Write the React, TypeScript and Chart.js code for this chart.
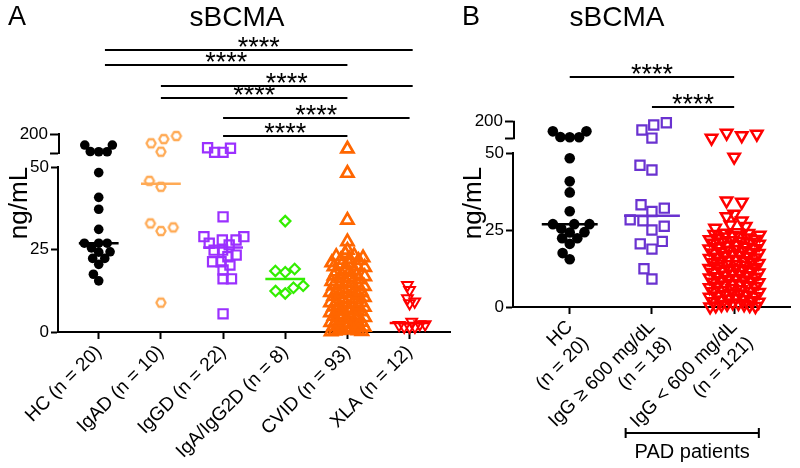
import React, { useEffect, useRef } from 'react';
import { Chart, registerables } from 'chart.js';

Chart.register(...registerables);

const FONT = "'Liberation Sans', Arial, Helvetica, sans-serif";

// ---------------- data ----------------
const yTicks = [0, 25, 50];
const breakTicks = [50, 200];
const breakLabel = '200';
const sigLabel = '****';
const titleText = 'sBCMA';
const yTitle = 'ng/mL';

const catsA = ['HC (n = 20)', 'IgAD (n = 10)', 'IgGD (n = 22)', 'IgA/IgG2D (n = 8)', 'CVID (n = 93)', 'XLA (n = 12)'];

const hcValues = [60, 113, 62, 113, 60, 48.3, 40.8, 37.2, 31.1, 26.9, 26.9, 26.9, 25.5, 24.2, 24.3, 22.3, 22.3, 20.5, 17.5, 15.5];
const igadValues = [184, 160, 127, 60, 44.0, 45.8, 30.6, 32.9, 31.7, 8.9];
const iggdValues = [55, 92, 55, 87, 34.9, 27.9, 28.9, 27.9, 28.9, 26.4, 26.9, 24.8, 24.8, 23.3, 22.8, 21.3, 21.3, 20.3, 18.8, 16.1, 16.1, 5.5];
const igaIgg2dValues = [33.6, 18.1, 19.1, 18.5, 14.0, 13.4, 11.7, 12.4];
const cvidValues = [
  82, 48.1, 33.9, 27.4, 24.8,
  23.8, 23.2, 22.9, 22.1, 21.8, 21.7, 21.0, 20.6, 20.5, 19.8,
  19.6, 19.0, 18.7, 18.2, 18.1, 17.5, 17.3, 16.8, 16.4, 16.2,
  15.9, 15.3, 15.1, 14.8, 14.4, 14.0, 13.8, 13.3, 13.0, 12.7,
  12.5, 12.0, 11.8, 11.4, 11.1, 10.8, 10.5, 10.2, 9.8, 9.7,
  9.2, 8.9, 8.6, 8.4, 8.0, 7.6, 7.5, 7.1, 6.8, 6.6,
  6.2, 5.9, 5.7, 5.3, 5.0, 4.8, 4.4, 4.1, 3.9, 3.6,
  3.3, 3.0, 2.9, 2.5, 2.2, 2.0, 1.7, 1.5, 1.2, 1.0,
  0.8, 0.6, 0.5, 0.3, 0.2, 0.1, 22.5, 20.0, 17.0, 14.2,
  11.6, 9.0, 6.4, 3.8, 1.8, 0.4, 12.3, 7.9,
];
const xlaValues = [8.7, 14.2, 12.7, 10.2, 9.2, 2.1, 3.1, 1.6, 2.3, 1.6, 2.3, 1.6];

const catsB = [['HC', '(n = 20)'], ['IgG \u2265 600 mg/dL', '(n = 18)'], ['IgG < 600 mg/dL', '(n = 121)']];
const igHighValues = [191, 170, 125, 52, 44.5, 46.0, 32.1, 33.2, 31.0, 28.3, 28.0, 26.2, 25.0, 21.3, 20.5, 18.8, 12.4, 9.1];
const igLowValues = [
  52, 97, 75, 88, 48.7, 34.1, 34.5, 30.2, 29.4, 28.0, 26.7, 26.2, 25.6, 24.0,
  24.2, 23.9, 23.6, 23.4, 23.0, 22.8, 22.5, 22.3, 21.9, 21.6,
  21.4, 21.0, 20.8, 20.4, 20.2, 19.9, 19.5, 19.3, 18.9, 18.7,
  18.3, 18.0, 17.8, 17.4, 17.1, 16.9, 16.5, 16.2, 16.0, 15.6,
  15.3, 15.1, 14.7, 14.4, 14.2, 13.8, 13.5, 13.3, 12.9, 12.6,
  12.4, 12.0, 11.7, 11.5, 11.1, 10.8, 10.6, 10.2, 9.9, 9.7,
  9.3, 9.0, 8.8, 8.4, 8.1, 7.9, 7.5, 7.2, 7.0, 6.6,
  6.3, 6.1, 5.7, 5.4, 5.2, 4.8, 4.5, 4.3, 3.9, 3.6,
  3.4, 3.0, 2.7, 2.5, 2.1, 1.8, 1.6, 1.2, 0.9, 0.7,
  0.4, 0.2, 0.1, 23.2, 21.2, 19.0, 17.6, 15.8, 13.9, 12.2,
  10.4, 8.6, 6.8, 5.0, 3.2, 1.4, 0.5, 22.0, 18.5, 14.9,
  11.3, 7.7, 4.1, 0.8, 16.7, 9.5, 2.3,
];

const sigPairsA = [[0, 5], [0, 4], [1, 5], [1, 4], [2, 5], [2, 4]];
const sigPairsB = [[0, 2], [1, 2]];
const padGroupLabel = 'PAD patients';

// ---------------- helpers ----------------
type K = { low: number; gap: number; top: number; cat: number };

function pixelHeights(values: number[], k: K): number[] {
  return values.map((v) => (v <= 50 ? v * k.low : 50 * k.low + k.gap + (v - 50) * k.top));
}

// beeswarm layout (pixel space approximation) -> x offsets in category units
function swarm(values: number[], k: K, diam: number): number[] {
  const py = pixelHeights(values, k);
  const idx = values.map((_, i) => i).sort((a, b) => py[a] - py[b]);
  const xs: number[] = new Array(values.length).fill(0);
  const placed: number[] = [];
  const d2 = diam * diam;
  idx.forEach((i, n) => {
    const cands = [0];
    for (const j of placed) {
      const dy = py[i] - py[j];
      if (Math.abs(dy) < diam) {
        const dx = Math.sqrt(d2 - dy * dy);
        cands.push(xs[j] + dx, xs[j] - dx);
      }
    }
    const sign = n % 2 ? 1 : -1;
    cands.sort((a, b) => Math.abs(a) - Math.abs(b) || (a - b) * sign);
    for (const c of cands) {
      let ok = true;
      for (const j of placed) {
        const dx = c - xs[j];
        const dy = py[i] - py[j];
        if (dx * dx + dy * dy < d2 - 0.01) { ok = false; break; }
      }
      if (ok) { xs[i] = c; break; }
    }
    placed.push(i);
  });
  return xs.map((x) => x / k.cat);
}

// row-binned scatter layout for dense columns
function rowLayout(values: number[], k: K, rowH: number, step: number, span: number): number[] {
  const py = pixelHeights(values, k);
  const idx = values.map((_, i) => i).sort((a, b) => py[a] - py[b]);
  const xs: number[] = new Array(values.length).fill(0);
  let r = 0;
  let rowNo = 0;
  while (r < idx.length) {
    const start = py[idx[r]];
    const h = start > 50 * k.low ? rowH * 2 : rowH;
    const row: number[] = [];
    while (r < idx.length && py[idx[r]] < start + h) { row.push(idx[r]); r++; }
    const n = row.length;
    const sp = n > 1 ? Math.min(step, span / (n - 1)) : 0;
    const shift = n > 2 ? (rowNo % 2 ? 0.25 : -0.25) * sp : 0;
    const slots: number[] = [];
    if (start > 50 * k.low) {
      // keep reading order in the upper segment
      row.sort((a, b) => a - b).forEach((_, m) => slots.push(m));
    } else {
      let lo = 0, hi = n - 1;
      while (lo <= hi) { slots.push(rowNo % 2 ? hi-- : lo++); if (lo <= hi) slots.push(rowNo % 2 ? lo++ : hi--); }
    }
    row.forEach((i, m) => { xs[i] = (slots[m] - (n - 1) / 2) * sp + (start > 50 * k.low ? 0 : shift); });
    rowNo++;
  }
  return xs.map((x) => x / k.cat);
}

function median(values: number[]): number {
  const s = [...values].sort((a, b) => a - b);
  const m = Math.floor(s.length / 2);
  return s.length % 2 ? s[m] : (s[m - 1] + s[m]) / 2;
}

function hexImage(color: string, r: number, lw: number): HTMLCanvasElement {
  const s = Math.ceil(2 * r + lw + 2);
  const c = document.createElement('canvas');
  c.width = s; c.height = s;
  const ctx = c.getContext('2d')!;
  ctx.strokeStyle = color; ctx.lineWidth = lw; ctx.lineJoin = 'round';
  ctx.beginPath();
  for (let a = 0; a < 6; a++) {
    const t = (a * Math.PI) / 3;
    const x = s / 2 + r * Math.cos(t);
    const y = s / 2 + r * Math.sin(t);
    if (a) ctx.lineTo(x, y); else ctx.moveTo(x, y);
  }
  ctx.closePath(); ctx.stroke();
  return c;
}

type Marker = { style: any; radius: number; color: string; fill: boolean; lw: number; rot?: number };
type Group = { values: number[]; marker: Marker; diam: number; rows?: { h: number; step: number; span: number } };

function groupDatasets(i: number, g: Group, k: K, half: number): any[] {
  const off = g.rows ? rowLayout(g.values, k, g.rows.h, g.rows.step, g.rows.span) : swarm(g.values, k, g.diam);
  const low: any[] = [];
  const high: any[] = [];
  g.values.forEach((v, n) => (v <= 50 ? low : high).push({ x: i + off[n], y: v }));
  const m = g.marker;
  const base = {
    type: 'scatter',
    pointStyle: m.style,
    pointRadius: m.radius,
    pointBackgroundColor: m.fill ? m.color : 'rgba(0,0,0,0)',
    pointBorderColor: m.color,
    pointBorderWidth: m.fill ? 0 : m.lw,
    pointRotation: m.rot || 0,
    showLine: false,
    clip: false,
    order: 1,
  };
  const med = median(g.values);
  return [
    { ...base, data: low, yAxisID: 'y' },
    { ...base, data: high, yAxisID: 'yTop' },
    {
      type: 'scatter', showLine: true, data: [{ x: i - half, y: med }, { x: i + half, y: med }],
      borderColor: m.color, borderWidth: 2.5, pointRadius: 0, yAxisID: 'y', clip: false, order: 2,
    },
  ];
}

type Panel = {
  cats: any[];
  groups: Group[];
  k: K;
  half: number;
  xMin: number; xMax: number;
  yTopMin: number; yTopMax: number;
  wLow: number; wTop: number;
  padTop: number; padRight: number;
  yWidth: number; xHeight: number;
  letter: string; letterX: number; titleX: number;
  ylabX: number; ylabY: number;
  sig: { pair: number[]; y: number; a?: number; b?: number }[];
  pad?: { from: number; to: number; y: number; textY: number };
};

function makePlugin(p: Panel) {
  return {
    id: 'annot' + p.letter,
    afterDraw(chart: any) {
      const ctx: CanvasRenderingContext2D = chart.ctx;
      const xs = chart.scales.x;
      const yt = chart.scales.yTop;
      const ca = chart.chartArea;
      ctx.save();
      ctx.fillStyle = '#000';
      ctx.strokeStyle = '#000';
      ctx.textBaseline = 'alphabetic';
      ctx.font = `27px ${FONT}`;
      ctx.textAlign = 'left';
      ctx.fillText(p.letter, p.letterX, 25);
      ctx.font = `28px ${FONT}`;
      ctx.textAlign = 'center';
      ctx.fillText(titleText, p.titleX, 26);
      ctx.save();
      ctx.translate(p.ylabX, p.ylabY);
      ctx.rotate(-Math.PI / 2);
      ctx.font = `26px ${FONT}`;
      ctx.textAlign = 'center';
      ctx.textBaseline = 'middle';
      ctx.fillText(yTitle, 0, 0);
      ctx.restore();
      // axis break bracket
      ctx.lineWidth = 2;
      ctx.beginPath();
      const bx = ca.left + 1;
      ctx.moveTo(bx, yt.getPixelForValue(breakTicks[1]) - 1);
      ctx.lineTo(bx, yt.getPixelForValue(breakTicks[0]) + 1);
      ctx.stroke();
      // significance bars
      ctx.font = `27px ${FONT}`;
      ctx.textAlign = 'center';
      ctx.textBaseline = 'alphabetic';
      const mt = ctx.measureText(sigLabel);
      for (const s of p.sig) {
        const x1 = xs.getPixelForValue(s.pair[0] + (s.a || 0));
        const x2 = xs.getPixelForValue(s.pair[1] + (s.b || 0));
        ctx.lineWidth = 2;
        ctx.beginPath();
        ctx.moveTo(x1, s.y); ctx.lineTo(x2, s.y);
        ctx.stroke();
        ctx.fillText(sigLabel, (x1 + x2) / 2, s.y - 3 - mt.actualBoundingBoxDescent);
      }
      if (p.pad) {
        const x1 = xs.getPixelForValue(p.pad.from);
        const x2 = xs.getPixelForValue(p.pad.to);
        ctx.lineWidth = 2;
        ctx.beginPath();
        ctx.moveTo(x1, p.pad.y); ctx.lineTo(x2, p.pad.y);
        ctx.moveTo(x1, p.pad.y - 5); ctx.lineTo(x1, p.pad.y + 5);
        ctx.moveTo(x2, p.pad.y - 5); ctx.lineTo(x2, p.pad.y + 5);
        ctx.stroke();
        ctx.font = `20px ${FONT}`;
        ctx.textBaseline = 'middle';
        ctx.fillText(padGroupLabel, (x1 + x2) / 2, p.pad.textY);
      }
      ctx.restore();
    },
  };
}

function makeConfig(p: Panel): any {
  const datasets: any[] = [];
  p.groups.forEach((g, i) => datasets.push(...groupDatasets(i, g, p.k, p.half)));
  const tickFont = { size: 17, family: FONT };
  const yGrid = { drawOnChartArea: false, tickLength: 7, tickWidth: 2, color: '#000' };
  return {
    type: 'scatter',
    data: { datasets },
    options: {
      responsive: false,
      animation: false,
      events: [],
      layout: { padding: { top: p.padTop, right: p.padRight, left: 0, bottom: 0 } },
      plugins: { legend: { display: false }, tooltip: { enabled: false }, title: { display: false } },
      scales: {
        x: {
          type: 'linear',
          min: p.xMin,
          max: p.xMax,
          afterBuildTicks: (s: any) => { s.ticks = p.cats.map((_: any, i: number) => ({ value: i })); },
          ticks: {
            callback: (v: any) => p.cats[Math.round(v)] ?? '',
            autoSkip: false,
            minRotation: 45,
            maxRotation: 45,
            font: { size: 19, family: FONT },
            color: '#000',
            padding: 2,
          },
          grid: { drawOnChartArea: false, tickLength: 7, tickWidth: 2, color: '#000' },
          border: { display: true, width: 2, color: '#000' },
          afterFit: (s: any) => { s.height = p.xHeight; },
        },
        y: {
          type: 'linear',
          position: 'left',
          stack: 'v',
          stackWeight: p.wLow,
          min: 0,
          max: 50,
          afterBuildTicks: (s: any) => { s.ticks = yTicks.map((v) => ({ value: v })); },
          ticks: { font: tickFont, color: '#000', padding: 2 },
          grid: yGrid,
          border: { display: true, width: 2, color: '#000' },
          afterFit: (s: any) => { s.width = p.yWidth; },
        },
        yTop: {
          type: 'linear',
          position: 'left',
          stack: 'v',
          stackWeight: p.wTop,
          min: p.yTopMin,
          max: p.yTopMax,
          afterBuildTicks: (s: any) => { s.ticks = breakTicks.map((v) => ({ value: v })); },
          ticks: { font: tickFont, color: '#000', padding: 2, callback: (v: any) => (v === breakTicks[1] ? breakLabel : '') },
          grid: { drawOnChartArea: false, tickLength: 8, tickWidth: 2, color: '#000' },
          border: { display: false },
          afterFit: (s: any) => { s.width = p.yWidth; },
        },
      },
    },
    plugins: [makePlugin(p)],
  };
}

export default function App() {
  const refA = useRef<HTMLCanvasElement>(null);
  const refB = useRef<HTMLCanvasElement>(null);

  useEffect(() => {
    const hex = hexImage('#FFAA55', 4.6, 2.3);
    const kA: K = { low: 3.3, gap: 14, top: 0.1267, cat: 62.6 };
    const kB: K = { low: 3.08, gap: 15, top: 0.1107, cat: 83.5 };

    const panelA: Panel = {
      cats: catsA,
      groups: [
        { values: hcValues, diam: 8.5, marker: { style: 'circle', radius: 4.8, color: '#000000', fill: true, lw: 0 } },
        { values: igadValues, diam: 13, marker: { style: hex, radius: 5, color: '#FFAA55', fill: false, lw: 2.3 } },
        { values: iggdValues, diam: 8.5, marker: { style: 'rect', radius: 6.5, color: '#9B30FF', fill: false, lw: 2.2 } },
        { values: igaIgg2dValues, diam: 10, marker: { style: 'rectRot', radius: 5.2, color: '#33EE00', fill: false, lw: 2.2 } },
        { values: cvidValues, diam: 6, rows: { h: 4.5, step: 9, span: 31 }, marker: { style: 'triangle', radius: 7, color: '#FF6600', fill: false, lw: 2.7 } },
        { values: xlaValues, diam: 5.4, marker: { style: 'triangle', radius: 6.2, color: '#FF0000', fill: false, lw: 2, rot: 180 } },
      ],
      k: kA,
      half: 0.32,
      xMin: -0.655, xMax: 5.655,
      yTopMin: -60.5, yTopMax: 247.4,
      wLow: 165, wTop: 39,
      padTop: 128, padRight: 7,
      yWidth: 58, xHeight: 136,
      letter: 'A', letterX: 8, titleX: 237,
      ylabX: 20, ylabY: 203,
      sig: [
        { pair: sigPairsA[0], y: 50, a: 0.1, b: 0.05 },
        { pair: sigPairsA[1], y: 65, a: 0.1 },
        { pair: sigPairsA[2], y: 86, b: 0.05 },
        { pair: sigPairsA[3], y: 98 },
        { pair: sigPairsA[4], y: 118 },
        { pair: sigPairsA[5], y: 136 },
      ],
    };

    const panelB: Panel = {
      cats: catsB,
      groups: [
        { values: hcValues, diam: 9.5, marker: { style: 'circle', radius: 5.3, color: '#000000', fill: true, lw: 0 } },
        { values: igHighValues, diam: 13, marker: { style: 'rect', radius: 6.5, color: '#6A32D0', fill: false, lw: 2.2 } },
        { values: igLowValues, diam: 6.5, rows: { h: 4.5, step: 15.5, span: 46 }, marker: { style: 'triangle', radius: 6.6, color: '#FF0000', fill: false, lw: 2.5, rot: 180 } },
      ],
      k: kB,
      half: 0.34,
      xMin: -0.69, xMax: 2.69,
      yTopMin: -82.8, yTopMax: 242.5,
      wLow: 154, wTop: 36,
      padTop: 117, padRight: 5,
      yWidth: 58, xHeight: 161,
      letter: 'B', letterX: 7, titleX: 162,
      ylabX: 19, ylabY: 203,
      sig: [
        { pair: sigPairsB[0], y: 77 },
        { pair: sigPairsB[1], y: 107 },
      ],
      pad: { from: 0.68, to: 2.3, y: 433, textY: 452 },
    };

    const a = new Chart(refA.current!, makeConfig(panelA));
    const b = new Chart(refB.current!, makeConfig(panelB));
    return () => { a.destroy(); b.destroy(); };
  }, []);

  return (
    <div style={{ position: 'fixed', left: 0, top: 0, width: 800, height: 468, background: '#ffffff', overflow: 'hidden' }}>
      <canvas ref={refA} width={460} height={468} style={{ position: 'absolute', left: 0, top: 0, width: 460, height: 468 }} />
      <canvas ref={refB} width={345} height={468} style={{ position: 'absolute', left: 455, top: 0, width: 345, height: 468 }} />
    </div>
  );
}
